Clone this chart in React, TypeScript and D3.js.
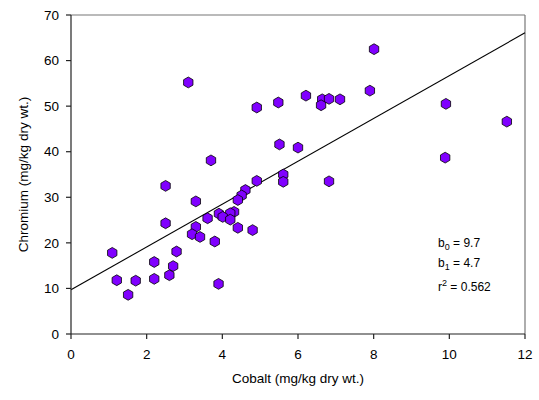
import React from "react";
import * as d3 from "d3";

const cobalt = [3.10, 4.91, 5.48, 5.51, 6.00, 3.70, 8.01, 6.21, 6.64, 6.82, 6.61, 7.11, 7.90, 9.91, 11.52, 9.89,
  6.82, 5.61, 5.61, 4.91, 2.50, 4.61, 4.51, 4.41, 3.30, 3.91, 4.31, 4.21, 4.01, 4.21, 3.61, 2.50,
  4.41, 4.80, 3.30, 3.20, 3.41, 3.80, 1.09, 2.79, 2.20, 2.70, 2.60, 1.21, 1.71, 2.20, 3.90, 1.51];
const chromium = [55.2, 49.7, 50.8, 41.6, 40.9, 38.1, 62.5, 52.3, 51.5, 51.6, 50.2, 51.5, 53.4, 50.5, 46.6, 38.7,
  33.5, 35.0, 33.4, 33.6, 32.5, 31.6, 30.4, 29.4, 29.1, 26.4, 26.8, 26.5, 25.7, 25.1, 25.4, 24.3,
  23.3, 22.8, 23.5, 21.9, 21.3, 20.3, 17.8, 18.1, 15.8, 14.9, 12.9, 11.8, 11.7, 12.1, 11.0, 8.6];
const xTicks = [0, 2, 4, 6, 8, 10, 12];
const yTicks = [0, 10, 20, 30, 40, 50, 60, 70];
const b0 = 9.7;
const b1 = 4.7;
const r2 = "0.562";

const W = 539, H = 400;
const L = 71, R = 525, T = 15, B = 334;
const font = "'Liberation Sans', Arial, sans-serif";

const hexagon = {
  draw(ctx: any, size: number) {
    const r = Math.sqrt(size / 2.598);
    for (let i = 0; i < 6; i++) {
      const a = (Math.PI / 3) * i - Math.PI / 2;
      const x = r * Math.cos(a), y = r * Math.sin(a);
      if (i === 0) ctx.moveTo(x, y); else ctx.lineTo(x, y);
    }
    ctx.closePath();
  },
};

export default function App() {
  const x = d3.scaleLinear().domain([0, 12]).range([L, R]);
  const y = d3.scaleLinear().domain([0, 70]).range([B, T]);
  const sym = d3.symbol().type(hexagon as any).size(2.598 * 5.4 * 5.4)();
  const line = d3.line<number>().x((d) => x(d)).y((d) => y(b0 + b1 * d));
  const pts = cobalt.map((c, i) => [c, chromium[i]]);
  return (
    <svg width={W} height={H} style={{ position: "absolute", left: 0, top: 0, background: "#fff" }}>
      <rect x={0} y={0} width={W} height={H} fill="#fff" />
      <line x1={L} x2={R} y1={T} y2={T} stroke="#777" strokeWidth={1.2} />
      <line x1={R} x2={R} y1={T} y2={B} stroke="#777" strokeWidth={1.2} />
      <path d={line([0, 12]) || ""} fill="none" stroke="#000" strokeWidth={1.1} />
      {pts.map((p, i) => (
        <path key={i} d={sym || ""} transform={`translate(${x(p[0])},${y(p[1])})`}
          fill="#8000ff" stroke="#000" strokeWidth={0.8} />
      ))}
      <line x1={L} x2={L} y1={T} y2={B} stroke="#222" strokeWidth={1.2} />
      <line x1={L} x2={R} y1={B} y2={B} stroke="#222" strokeWidth={1.2} />
      {yTicks.map((t) => (
        <g key={"y" + t}>
          <line x1={L - 5} x2={L} y1={y(t)} y2={y(t)} stroke="#222" strokeWidth={1.2} />
          <text x={L - 12} y={y(t)} dy="0.35em" textAnchor="end" fontFamily={font} fontSize={13.5} fill="#000">{t}</text>
        </g>
      ))}
      {xTicks.map((t) => (
        <g key={"x" + t}>
          <line x1={x(t)} x2={x(t)} y1={B} y2={B + 5} stroke="#222" strokeWidth={1.2} />
          <text x={x(t)} y={B + 25} textAnchor="middle" fontFamily={font} fontSize={13.5} fill="#000">{t}</text>
        </g>
      ))}
      <text x={(L + R) / 2} y={383} textAnchor="middle" fontFamily={font} fontSize={13.5} fill="#000">Cobalt (mg/kg dry wt.)</text>
      <text transform={`translate(28,${(T + B) / 2}) rotate(-90)`} textAnchor="middle" fontFamily={font} fontSize={13.5} fill="#000">Chromium (mg/kg dry wt.)</text>
      <g fontFamily={font} fontSize={12} fill="#000">
        <text x={438} y={247}>b<tspan fontSize={9} dy={3}>0</tspan><tspan dy={-3}> = {b0}</tspan></text>
        <text x={438} y={267}>b<tspan fontSize={9} dy={3}>1</tspan><tspan dy={-3}> = {b1}</tspan></text>
        <text x={438} y={291}>r<tspan fontSize={9} dy={-5}>2</tspan><tspan dy={5}> = {r2}</tspan></text>
      </g>
    </svg>
  );
}
